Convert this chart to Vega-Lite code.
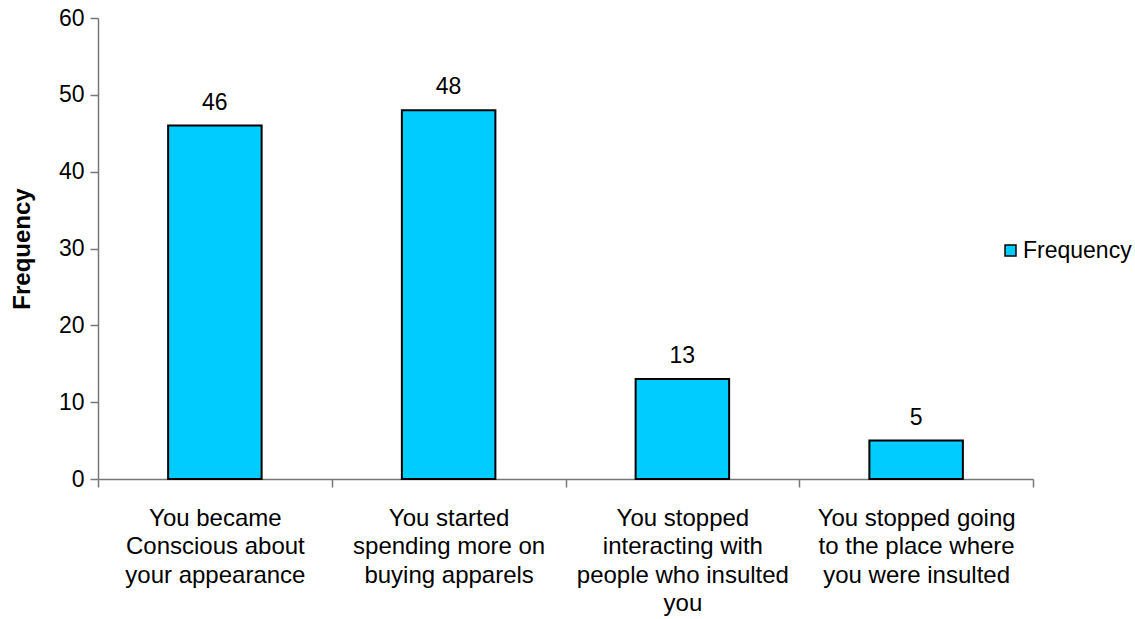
{
  "$schema": "https://vega.github.io/schema/vega-lite/v6.json",
  "width": 935,
  "height": 461,
  "autosize": {"type": "none"},
  "padding": {"left": 98, "top": 18, "right": 102, "bottom": 140},
  "background": "white",
  "config": {
    "view": {"stroke": null},
    "font": "Liberation Sans",
    "axis": {"labelFont": "Liberation Sans", "titleFont": "Liberation Sans", "labelColor": "black", "titleColor": "black", "domainColor": "#777777", "tickColor": "#777777", "grid": false}
  },
  "data": {
    "values": [
      {"category": "You became|Conscious about|your appearance", "series": "Frequency", "value": 46},
      {"category": "You started|spending more on|buying apparels", "series": "Frequency", "value": 48},
      {"category": "You stopped|interacting with|people who insulted|you", "series": "Frequency", "value": 13},
      {"category": "You stopped going|to the place where|you were insulted", "series": "Frequency", "value": 5}
    ]
  },
  "encoding": {
    "x": {
      "field": "category",
      "type": "nominal",
      "sort": null,
      "scale": {"paddingInner": 0, "paddingOuter": 0},
      "axis": {
        "title": null,
        "labelAngle": 0,
        "labelExpr": "isValid(datum.value) ? split(datum.value, '|') : ''",
        "labelFontSize": 24,
        "labelLineHeight": 28.5,
        "labelPadding": 19,
        "labelBaseline": "top",
        "labelOverlap": false,
        "labelLimit": 0,
        "tickBand": "extent",
        "tickSize": 8,
        "domainWidth": 1.5,
        "tickWidth": 1.5
      }
    },
    "y": {
      "field": "value",
      "type": "quantitative",
      "scale": {"domain": [0, 60]},
      "axis": {
        "title": "Frequency",
        "titleFontSize": 24,
        "titleFontWeight": "bold",
        "titlePadding": 24,
        "labelFontSize": 23,
        "labelPadding": 6,
        "labelOverlap": false,
        "tickSize": 8,
        "values": [0, 10, 20, 30, 40, 50, 60],
        "domainWidth": 1.5,
        "tickWidth": 1.5
      }
    }
  },
  "layer": [
    {
      "mark": {"type": "bar", "width": {"band": 0.4}, "stroke": "black", "strokeWidth": 2},
      "encoding": {
        "color": {
          "field": "series",
          "type": "nominal",
          "scale": {"range": ["#00CCFF"]},
          "legend": {
            "title": null,
            "orient": "none",
            "legendX": 901,
            "legendY": 221,
            "symbolType": "square",
            "symbolSize": 120,
            "symbolStrokeColor": "black",
            "symbolStrokeWidth": 1.5,
            "labelFontSize": 23,
            "labelLimit": 0,
            "labelFont": "Liberation Sans",
            "labelColor": "black",
            "labelOffset": 1
          }
        }
      }
    },
    {
      "mark": {"type": "text", "fontSize": 23, "baseline": "alphabetic", "dy": -16, "color": "black"},
      "encoding": {"text": {"field": "value", "type": "quantitative"}}
    }
  ]
}
